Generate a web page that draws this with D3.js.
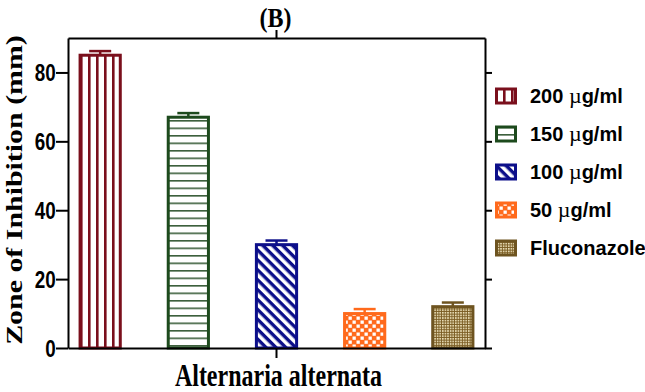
<!DOCTYPE html>
<html>
<head>
<meta charset="utf-8">
<script src="https://cdn.jsdelivr.net/npm/d3@7"></script>
<style>
  body { margin: 0; background: #fff; }
  svg { display: block; }
</style>
</head>
<body>
<div id="chart"></div>
<script>
// Data
const category = ["Alternaria alternata"];
const series = ["200 \u00b5g/ml", "150 \u00b5g/ml", "100 \u00b5g/ml", "50 \u00b5g/ml", "Fluconazole"];
const means = [85, 67, 30, 10, 12];
const errors = [1.2, 1.2, 1.2, 1.3, 1.2];
const yTicks = [0, 20, 40, 60, 80];

const colors = ["#7a0f1c", "#1d4a1d", "#0c0f8a", "#ff6a1c", "#6e5420"];

const width = 645, height = 392;
const plot = {left: 68, right: 485, top: 38, bottom: 348};

const svg = d3.select("#chart")
    .append("svg")
    .attr("width", width)
    .attr("height", height);

// Patterns
const defs = svg.append("defs");

// vertical stripes
const p0 = defs.append("pattern").attr("id", "pat0")
    .attr("patternUnits", "userSpaceOnUse").attr("width", 8).attr("height", 8);
p0.append("rect").attr("width", 8).attr("height", 8).attr("fill", "#fff");
p0.append("rect").attr("x", 0).attr("width", 2.6).attr("height", 8).attr("fill", colors[0]);

// horizontal lines
const p1 = defs.append("pattern").attr("id", "pat1")
    .attr("patternUnits", "userSpaceOnUse").attr("width", 8).attr("height", 7.5);
p1.append("rect").attr("width", 8).attr("height", 7.5).attr("fill", "#fff");
p1.append("rect").attr("y", 0).attr("width", 8).attr("height", 1.6).attr("fill", "#3b5e3b");

// diagonal stripes
const p2 = defs.append("pattern").attr("id", "pat2")
    .attr("patternUnits", "userSpaceOnUse").attr("width", 7).attr("height", 7)
    .attr("patternTransform", "rotate(45)");
p2.append("rect").attr("width", 7).attr("height", 7).attr("fill", "#fff");
p2.append("rect").attr("width", 7).attr("height", 3.4).attr("fill", colors[2]);

// checkerboard
const p3 = defs.append("pattern").attr("id", "pat3")
    .attr("patternUnits", "userSpaceOnUse").attr("width", 8).attr("height", 8);
p3.append("rect").attr("width", 8).attr("height", 8).attr("fill", colors[3]);
p3.append("rect").attr("x", 0.5).attr("y", 0.5).attr("width", 3.3).attr("height", 3.3).attr("fill", "#fff");
p3.append("rect").attr("x", 4.5).attr("y", 4.5).attr("width", 3.3).attr("height", 3.3).attr("fill", "#fff");

// fine dots
const p4 = defs.append("pattern").attr("id", "pat4")
    .attr("patternUnits", "userSpaceOnUse").attr("width", 2.6).attr("height", 2.6);
p4.append("rect").attr("width", 2.6).attr("height", 2.6).attr("fill", "#7a5c22");
p4.append("rect").attr("width", 1.6).attr("height", 1.6).attr("fill", "#eee3bd");

// Scales
const xGroup = d3.scaleBand().domain(category).range([plot.left, plot.right]);
const xBar = d3.scaleBand().domain(series).range([plot.left, plot.right])
    .paddingInner(0.51).paddingOuter(0.12);
const y = d3.scaleLinear().domain([0, 90]).range([plot.bottom, plot.top]);

// Bars
const data = series.map((s, i) => ({name: s, mean: means[i], err: errors[i], i: i}));

svg.selectAll("rect.bar")
    .data(data)
    .enter()
    .append("rect")
    .attr("class", "bar")
    .attr("x", d => xBar(d.name) + 1.5)
    .attr("y", d => y(d.mean))
    .attr("width", xBar.bandwidth() - 3)
    .attr("height", d => y(0) - y(d.mean))
    .attr("fill", d => `url(#pat${d.i})`)
    .attr("stroke", d => colors[d.i])
    .attr("stroke-width", 3);

// Error bars (upper only)
const eb = svg.selectAll("g.err")
    .data(data)
    .enter()
    .append("g")
    .attr("stroke", d => colors[d.i])
    .attr("stroke-width", 2.5);

eb.append("line")
    .attr("x1", d => xBar(d.name) + xBar.bandwidth() / 2)
    .attr("x2", d => xBar(d.name) + xBar.bandwidth() / 2)
    .attr("y1", d => y(d.mean))
    .attr("y2", d => y(d.mean + d.err));

eb.append("line")
    .attr("x1", d => xBar(d.name) + xBar.bandwidth() / 2 - 11)
    .attr("x2", d => xBar(d.name) + xBar.bandwidth() / 2 + 11)
    .attr("y1", d => y(d.mean + d.err))
    .attr("y2", d => y(d.mean + d.err));

// Axes
function styleAxis(g) {
    g.selectAll("path, line").attr("stroke", "#000").attr("stroke-width", 2);
}

// left
const leftAxis = svg.append("g")
    .attr("transform", `translate(${plot.left},0)`)
    .call(d3.axisLeft(y).tickValues(yTicks).tickSize(12).tickSizeOuter(0).tickPadding(3));
styleAxis(leftAxis);
leftAxis.selectAll("text")
    .attr("font-family", "'Liberation Sans', Arial, sans-serif")
    .attr("font-weight", "bold")
    .attr("font-size", 23)
    .attr("fill", "#000")
    .attr("dy", "0.36em")
    .attr("transform", "scale(0.82,1)");

// right
const rightAxis = svg.append("g")
    .attr("transform", `translate(${plot.right},0)`)
    .call(d3.axisRight(y).tickValues(yTicks).tickSize(7).tickSizeOuter(0).tickFormat(""));
styleAxis(rightAxis);

// bottom
const bottomAxis = svg.append("g")
    .attr("transform", `translate(0,${plot.bottom})`)
    .call(d3.axisBottom(xGroup).tickSize(10).tickSizeOuter(0).tickFormat(""));
styleAxis(bottomAxis);

// top
const topAxis = svg.append("g")
    .attr("transform", `translate(0,${plot.top})`)
    .call(d3.axisTop(xGroup).tickSize(8).tickSizeOuter(0).tickFormat(""));
styleAxis(topAxis);

const midX = xGroup(category[0]) + xGroup.bandwidth() / 2;

// Title
svg.append("text")
    .attr("transform", `translate(${midX - 1},27) scale(1,1.1)`)
    .attr("text-anchor", "middle")
    .attr("font-family", "'Liberation Serif', 'Times New Roman', serif")
    .attr("font-weight", "bold")
    .attr("font-size", 24)
    .text("(B)");

// X label
svg.append("text")
    .attr("transform", `translate(${midX + 2},386) scale(1,1.3)`)
    .attr("text-anchor", "middle")
    .attr("font-family", "'Liberation Serif', 'Times New Roman', serif")
    .attr("font-weight", "bold")
    .attr("font-size", 24)
    .text(category[0]);

// Y label
svg.append("text")
    .attr("transform", "translate(22,190) rotate(-90) scale(1.3,1)")
    .attr("text-anchor", "middle")
    .attr("font-family", "'Liberation Serif', 'Times New Roman', serif")
    .attr("font-weight", "bold")
    .attr("font-size", 23)
    .text("Zone of Inhibition (mm)");

// Legend
const legend = svg.selectAll("g.legend")
    .data(data)
    .enter()
    .append("g")
    .attr("transform", d => `translate(495,${96 + d.i * 38})`);

legend.append("rect")
    .attr("x", 1.5)
    .attr("y", -7)
    .attr("width", 19)
    .attr("height", 14)
    .attr("fill", d => `url(#pat${d.i})`)
    .attr("stroke", d => colors[d.i])
    .attr("stroke-width", 3);

const legendText = legend.append("text")
    .attr("x", 35)
    .attr("y", 0)
    .attr("dy", "0.36em")
    .attr("font-family", "'Liberation Sans', Arial, sans-serif")
    .attr("font-weight", "bold")
    .attr("font-size", 20);

// the micro sign is set in a serif face, as in the figure
legendText.each(function(d) {
    const t = d3.select(this);
    const parts = d.name.split("\u00b5");
    t.append("tspan").text(parts[0]);
    if (parts.length > 1) {
        t.append("tspan")
            .attr("font-family", "'Liberation Serif', 'Times New Roman', serif")
            .attr("font-weight", "normal")
            .attr("font-size", 22)
            .text("\u00b5");
        t.append("tspan").text(parts[1]);
    }
});
</script>
</body>
</html>
